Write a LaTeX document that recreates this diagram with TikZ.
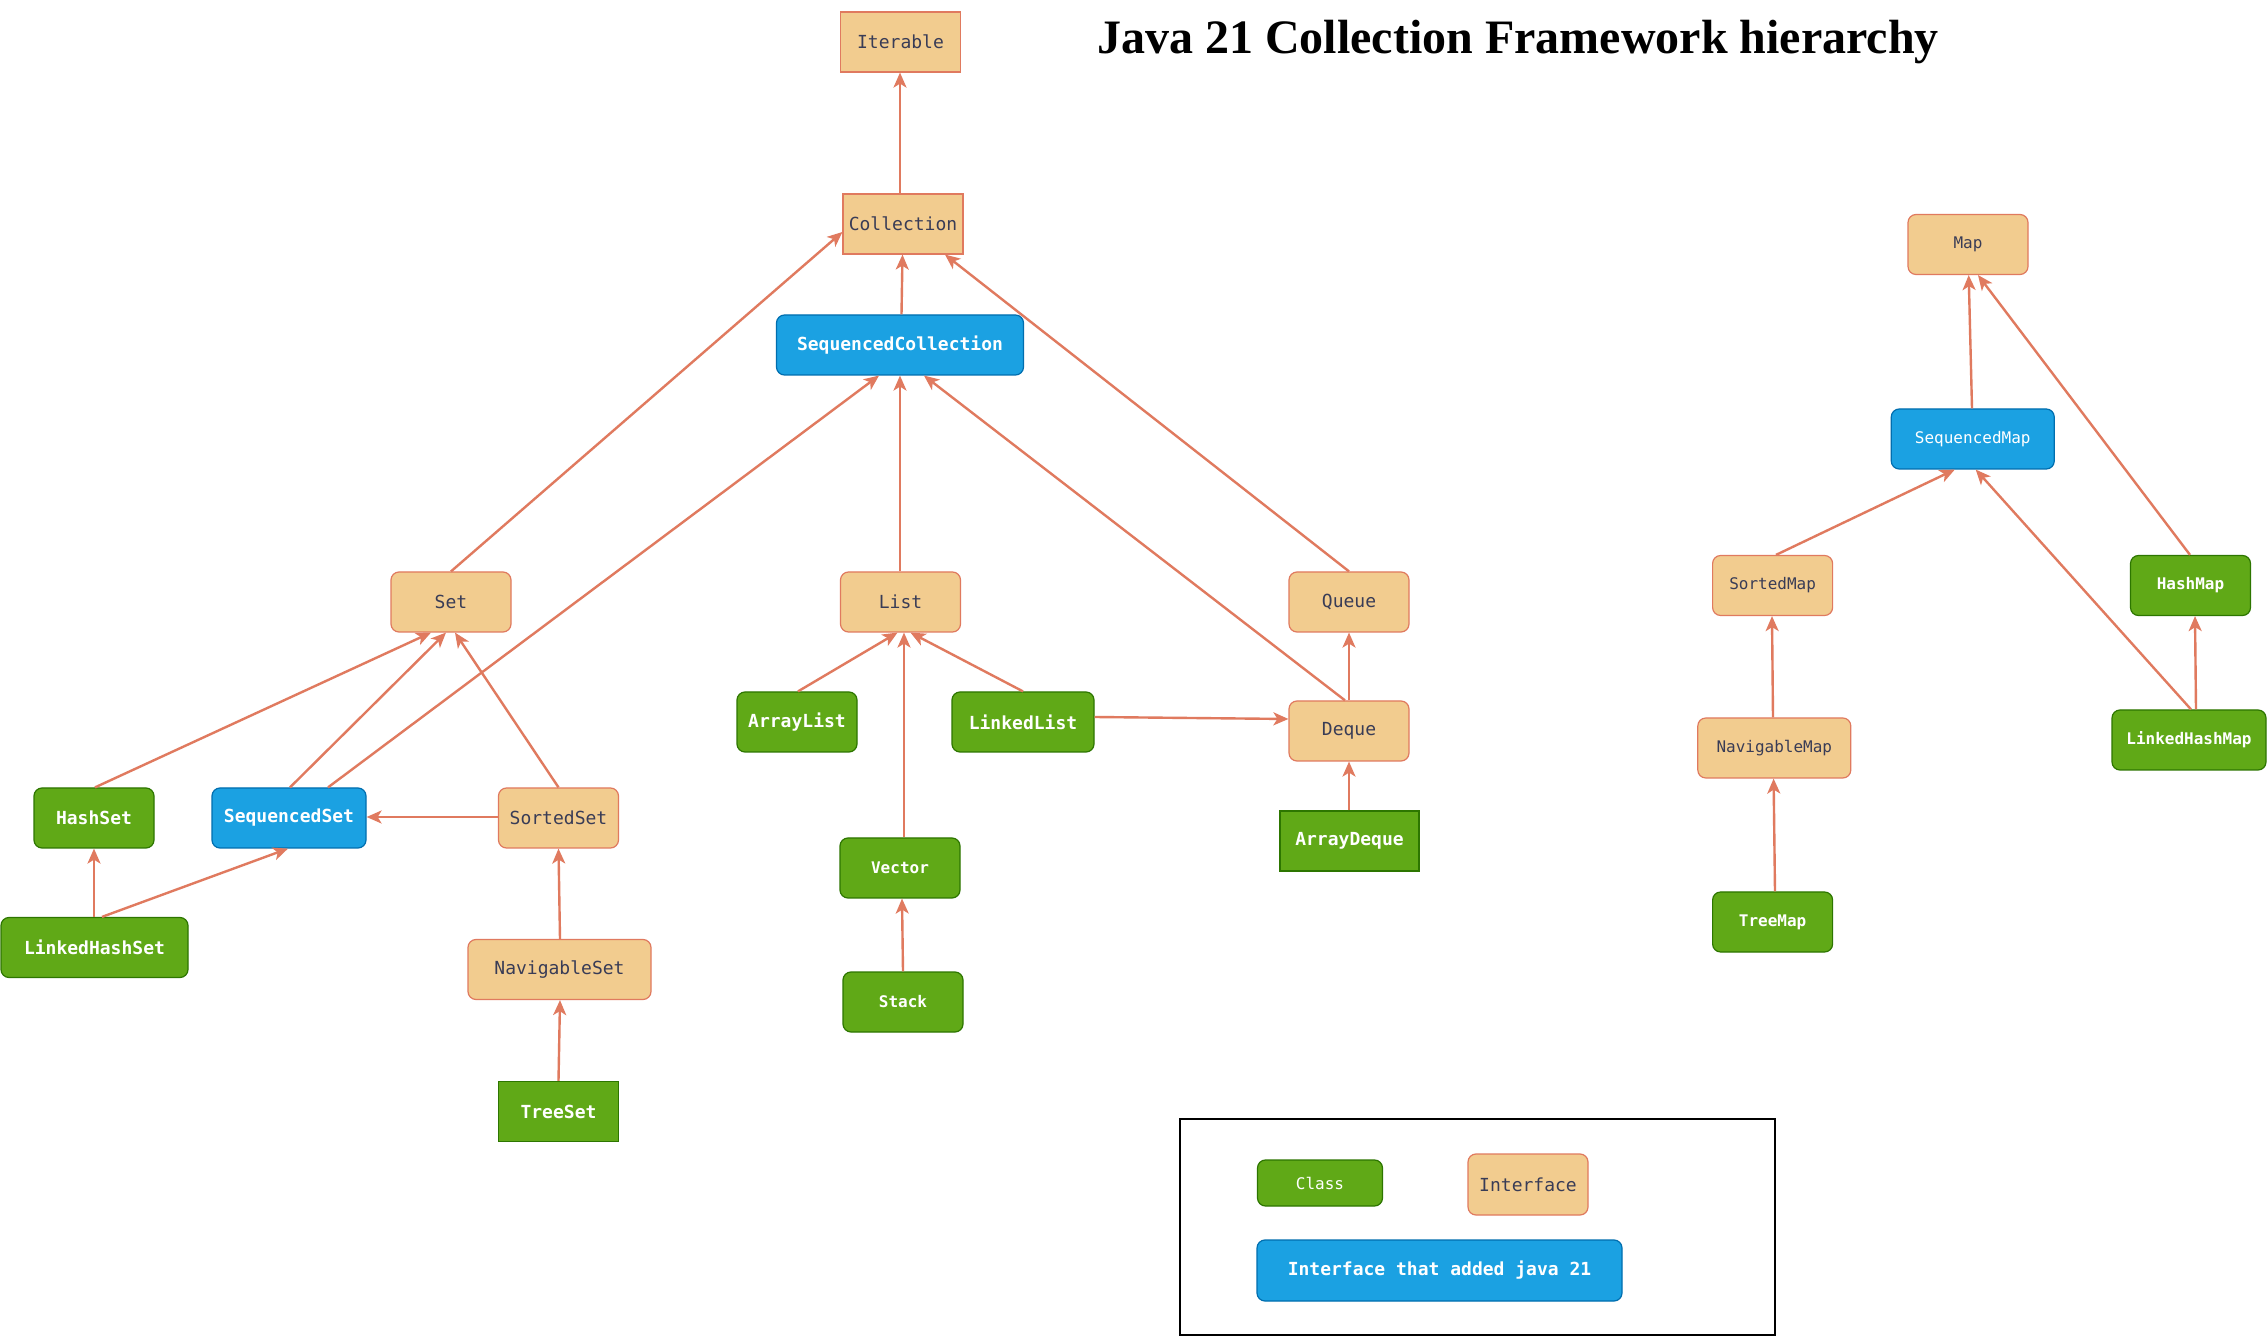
\documentclass[tikz,border=0pt]{standalone}
\usepackage{fontspec}
\setmonofont{DejaVu Sans Mono}
\newfontfamily\titlefont{Liberation Serif}
\usetikzlibrary{arrows.meta,calc}
\definecolor{ifill}{HTML}{F2CC8F}
\definecolor{istroke}{HTML}{E07A5F}
\definecolor{itext}{HTML}{393C56}
\definecolor{gfill}{HTML}{60A917}
\definecolor{gstroke}{HTML}{2D7600}
\definecolor{bfill}{HTML}{1BA1E2}
\definecolor{bstroke}{HTML}{006EAF}
\definecolor{arrowc}{HTML}{E07A5F}
\tikzset{
  basebox/.style={draw, line width=0.6pt, inner sep=0pt, minimum height=30pt, minimum width=60pt,
    font=\ttfamily\fontsize{9}{10}\selectfont},
  iface/.style={basebox, fill=ifill, draw=istroke, text=itext, rounded corners=4pt},
  ifacesq/.style={basebox, fill=ifill, draw=istroke, text=itext},
  cls/.style={basebox, fill=gfill, draw=gstroke, text=white, rounded corners=4pt,
    font=\ttfamily\bfseries\fontsize{9}{10}\selectfont},
  clssq/.style={basebox, fill=gfill, draw=gstroke, text=white,
    font=\ttfamily\bfseries\fontsize{9}{10}\selectfont},
  seqbox/.style={basebox, fill=bfill, draw=bstroke, text=white, rounded corners=4pt,
    font=\ttfamily\bfseries\fontsize{9}{10}\selectfont},
  small/.style={font=\ttfamily\fontsize{8}{9}\selectfont},
  smallb/.style={font=\ttfamily\bfseries\fontsize{8}{9}\selectfont},
  arr/.style={draw=arrowc, line width=1.2pt, -{Stealth[length=7.5pt,width=6.5pt,inset=2pt]}}
}
\begin{document}
\begin{tikzpicture}[x=0.5pt,y=-0.5pt]
\useasboundingbox (0,0) rectangle (2267,1336);
\fill[white] (0,0) rectangle (2267,1336);

% title
\node[anchor=base, inner sep=0pt, font=\titlefont\bfseries\fontsize{24}{28}\selectfont] (title) at (1518,54) {Java 21 Collection Framework hierarchy};

% collection hierarchy
\node[ifacesq] (Iterable) at (900.5,42) {Iterable};
\node[ifacesq] (Collection) at (903,224) {Collection};
\node[seqbox, minimum width=123.5pt] (SeqColl) at (900,345) {SequencedCollection};

\node[iface] (Set) at (451,602) {Set};
\node[cls] (HashSet) at (94,818) {HashSet};
\node[seqbox, minimum width=77pt] (SeqSet) at (289,818) {SequencedSet};
\node[iface] (SortedSet) at (558.5,818) {SortedSet};
\node[cls, minimum width=93.5pt] (LinkedHashSet) at (94.5,947.5) {LinkedHashSet};
\node[iface, minimum width=91.5pt] (NavigableSet) at (559.5,969.5) {NavigableSet};
\node[clssq] (TreeSet) at (558.5,1111.5) {TreeSet};

\node[iface] (List) at (900.5,602) {List};
\node[iface] (Queue) at (1349,602) {Queue};
\node[cls] (ArrayList) at (797,722) {ArrayList};
\node[cls, minimum width=71pt] (LinkedList) at (1023,722) {LinkedList};
\node[iface] (Deque) at (1349,731) {Deque};
\node[clssq, minimum width=69.5pt] (ArrayDeque) at (1349.5,841) {ArrayDeque};
\node[cls, smallb] (Vector) at (900,868) {Vector};
\node[cls, smallb] (Stack) at (903,1002) {Stack};

% map hierarchy
\node[iface, small] (Map) at (1968,244.5) {Map};
\node[seqbox, small, minimum width=81.5pt] (SeqMap) at (1972.75,439) {SequencedMap};
\node[iface, small] (SortedMap) at (1772.6,585.5) {SortedMap};
\node[cls, smallb] (HashMap) at (2190.5,585.5) {HashMap};
\node[iface, small, minimum width=76.5pt] (NavigableMap) at (1774.3,748) {NavigableMap};
\node[cls, smallb, minimum width=77pt] (LinkedHashMap) at (2189,740) {LinkedHashMap};
\node[cls, smallb] (TreeMap) at (1772.6,922) {TreeMap};

% legend
\node[draw=black, line width=0.6pt, inner sep=0pt, minimum width=297.5pt, minimum height=108pt] (legend) at (1477.5,1227) {};
\node[cls, small, minimum width=62.5pt, minimum height=23pt] (lgClass) at (1320,1183) {Class};
\node[iface, minimum height=30.5pt] (lgIface) at (1528,1184.5) {Interface};
\node[seqbox, minimum width=182.5pt, minimum height=30.5pt] (lgSeq) at (1439.5,1270.5) {Interface that added java 21};

% edges: collection
\draw[arr] ($(Collection.north)+(-3,0)$) -- ($(Iterable.south)+(-0.5,0)$);
\draw[arr] ($(SeqColl.north)+(1.5,0)$) -- ($(Collection.south)+(-0.5,0)$);
\draw[arr] (Set.north) -- ($(Collection.west)+(0,8)$);
\draw[arr] (Queue.north) -- ($(Collection.south)+(42,0)$);

\draw[arr] ($(HashSet.north)+(1,0)$) -- ($(Set.south)+(-20,0)$);
\draw[arr] ($(SeqSet.north)+(1,0)$) -- ($(Set.south)+(-5,0)$);
\draw[arr] (SortedSet.north) -- ($(Set.south)+(4,0)$);
\draw[arr] ($(SeqSet.north)+(39,0)$) -- ($(SeqColl.south)+(-21,0)$);
\draw[arr] ($(SortedSet.west)+(0,-1)$) -- ($(SeqSet.east)+(0,-1)$);
\draw[arr] ($(LinkedHashSet.north)+(-0.5,0)$) -- ($(HashSet.south)+(0,0)$);
\draw[arr] ($(LinkedHashSet.north)+(7.5,0)$) -- ($(SeqSet.south)+(-1,0)$);
\draw[arr] ($(NavigableSet.north)+(0.5,0)$) -- ($(SortedSet.south)+(0,0)$);
\draw[arr] ($(TreeSet.north)+(0,0)$) -- ($(NavigableSet.south)+(0.5,0)$);

\draw[arr] ($(List.north)+(-0.5,0)$) -- ($(SeqColl.south)+(0,0)$);
\draw[arr] ($(ArrayList.north)+(1,0)$) -- ($(List.south)+(-3,0)$);
\draw[arr] ($(Vector.north)+(4,0)$) -- ($(List.south)+(3.5,0)$);
\draw[arr] (LinkedList.north) -- ($(List.south)+(10,0)$);
\draw[arr] ($(LinkedList.east)+(0,-5)$) -- ($(Deque.west)+(0,-12)$);
\draw[arr] ($(Deque.north)+(-4,0)$) -- ($(SeqColl.south)+(24,0)$);
\draw[arr] (Deque.north) -- (Queue.south);
\draw[arr] ($(ArrayDeque.north)+(-0.5,0)$) -- (Deque.south);
\draw[arr] (Stack.north) -- ($(Vector.south)+(2,0)$);

% edges: map
\draw[arr] ($(SeqMap.north)+(-0.75,0)$) -- ($(Map.south)+(0.7,0)$);
\draw[arr] ($(HashMap.north)+(-0.5,0)$) -- ($(Map.south)+(10,0)$);
\draw[arr] ($(SortedMap.north)+(3.4,0)$) -- ($(SeqMap.south)+(-18,0)$);
\draw[arr] ($(LinkedHashMap.north)+(2,0)$) -- ($(SeqMap.south)+(3,0)$);
\draw[arr] ($(LinkedHashMap.north)+(7,0)$) -- ($(HashMap.south)+(4.5,0)$);
\draw[arr] ($(NavigableMap.north)+(-1.3,0)$) -- ($(SortedMap.south)+(-0.6,0)$);
\draw[arr] ($(TreeMap.north)+(2.4,0)$) -- ($(NavigableMap.south)+(-0.7,0)$);
\end{tikzpicture}
\end{document}
